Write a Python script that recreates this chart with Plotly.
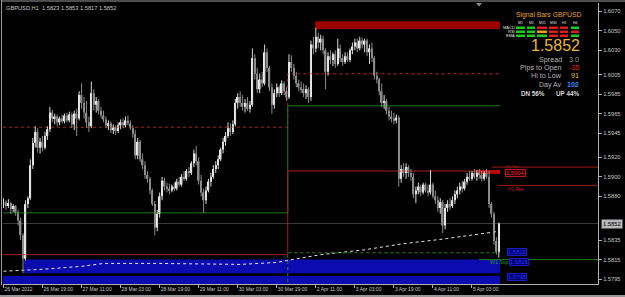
import plotly.graph_objects as go

# ---------------- data (prices in pips above BASE) ----------------
BASE = 1.5800
PIP = 0.0001

opens = [72,74,70,73,67,70,63,55,40,16, 72,78,112,135,146,130,136,130,142,149,
         166,160,162,156,160,157,163,158,164,154, 165,160,184,176,166,156,152,186,174,178,
         168,163,159,153,155,148,151,147,153,156, 153,158,155,150,144,122,136,118,112,102,
         98,86,72,48,62,80,96,90,88,86, 90,88,95,92,100,98,106,104,114,124,
         116,96,84,76,86,95,100,108,112,118, 128,136,142,150,146,154,176,182,176,172,
         176,170,174,222,206,190,200,196,228,212, 192,174,186,192,186,196,188,182,218,212,
         204,196,192,190,186,190,182,236,232,244, 238,242,230,208,224,220,226,216,232,222,
         218,224,220,230,234,238,232,240,236,240, 228,232,222,204,200,188,176,178,168,162,
         160,158,161,98,108,104,110,104,100,82, 86,90,84,92,86,84,92,80,76,68,
         74,50,68,72,70,76,82,86,90,88, 95,100,98,104,100,104,102,98,104,100,
         72,62,34,23]
highs = [78,76,77,74,72,71,66,58,42,76, 80,118,140,152,150,140,142,146,152,172,
         169,165,164,162,164,165,166,167,166,168, 170,188,196,182,178,162,198,190,182,180,
         172,168,162,158,157,154,153,156,159,160, 162,163,158,153,148,140,138,124,116,106,
         100,88,75,66,84,100,99,94,93,92, 94,98,100,103,106,108,110,116,128,132,
         120,102,88,90,98,104,112,116,122,130, 140,146,156,155,158,180,186,188,184,180,
         182,178,232,226,212,206,208,236,232,214, 196,190,196,194,199,198,192,226,225,216,
         208,200,198,196,194,192,240,244,253,248, 246,245,232,228,230,228,230,242,236,226,
         228,228,232,238,242,242,244,243,242,242, 236,238,224,208,202,196,184,180,172,168,
         166,164,163,112,114,114,112,108,104,90, 94,92,94,94,92,107,94,86,80,78,
         76,72,76,78,80,86,90,94,96,98, 104,106,106,108,107,108,106,106,108,106,
         74,64,38,53]
lows = [68,66,68,62,64,60,50,35,1,14, 68,76,108,130,125,124,126,128,138,146,
        156,154,152,153,155,155,156,156,150,148, 142,158,170,160,150,146,150,168,166,164,
        160,156,150,148,145,144,143,145,149,150, 151,153,148,140,118,118,115,108,98,94,
        82,70,40,44,58,76,86,84,82,84, 85,86,90,90,96,96,100,102,110,112,
        92,80,63,72,84,90,98,104,108,116, 124,132,140,142,144,152,170,172,168,166,
        168,166,172,200,186,186,192,194,208,188, 165,170,182,182,184,184,178,180,208,200,
        192,188,186,182,180,176,178,226,228,232, 230,226,190,204,216,214,212,214,218,214,
        216,218,218,226,230,228,230,232,228,224, 216,218,200,196,184,172,170,164,158,156,
        154,155,90,94,100,98,100,96,78,73, 82,80,82,84,80,82,78,72,64,62,
        42,46,64,66,68,72,78,82,84,86, 92,96,96,98,96,98,95,96,98,68,
        58,30,20,17]
closes = [74,70,73,67,70,63,55,40,16,72, 78,112,135,146,130,136,130,142,149,166,
          160,162,156,160,157,163,158,164,154,165, 160,184,176,166,156,152,186,174,178,168,
          163,159,153,155,148,151,147,153,156,153, 158,155,150,144,122,136,118,112,102,98,
          86,72,48,62,80,96,90,88,86,90, 88,95,92,100,98,106,104,114,124,116,
          96,84,76,86,95,100,108,112,118,128, 136,142,150,146,154,176,182,176,172,176,
          170,174,222,206,190,200,196,228,212,192, 174,186,192,186,196,188,182,218,212,204,
          196,192,190,186,190,182,236,232,244,238, 242,230,208,224,220,226,216,232,222,218,
          224,220,230,234,238,232,240,236,240,228, 232,222,204,200,188,176,178,168,162,160,
          158,161,98,108,104,110,104,100,82,86, 90,84,92,86,84,92,80,76,68,74,
          50,68,72,70,76,82,86,90,88,95, 100,98,104,100,104,102,98,104,100,72,
          62,34,23,52]

tick_bars = [0, 16, 32, 48, 64, 80, 96, 112, 128, 144, 160, 176, 192]
tick_text = ["26 Mar 2012", "26 Mar 19:00", "27 Mar 11:00", "28 Mar 03:00", "28 Mar 19:00",
             "29 Mar 11:00", "30 Mar 03:00", "30 Mar 19:00", "2 Apr 11:00", "3 Apr 03:00",
             "3 Apr 19:00", "4 Apr 11:00", "5 Apr 03:00"]
price_ticks = [1.6070, 1.6050, 1.6030, 1.6005, 1.5985, 1.5965, 1.5945, 1.5920, 1.5900,
               1.5880, 1.5835, 1.5815, 1.5795]

# weekly levels (previous week / current week), new week starts between bars 116 and 117
week_split = 116.5
lvl_red_dot = [1.5951, 1.6006]
lvl_green = [1.5863, 1.5973]
lvl_red = [1.5820, 1.5906]
lvl_green_dot = [1.5770, 1.5822]

# slow moving average (vertices)
ma_bars = [0, 16, 32, 41, 64, 97, 112, 116, 130, 148, 163, 180, 203]
ma_vals = [1.5803, 1.5805, 1.5808, 1.5811, 1.5811, 1.5810, 1.5812, 1.5814, 1.5820, 1.5825,
           1.5831, 1.5836, 1.5844]

bid = 1.5852
res_zone_top = [1.6052, 1.6060]     # red zone from bar 128
res_zone_h1 = [1.5903, 1.5907]      # small red zone
sup_zone_1 = [1.5801, 1.5815]       # blue zone from bar 8.5
sup_zone_2 = [1.5785, 1.5798]       # blue zone whole width
h4_res = 1.5910
h1_res = 1.5891
w1_sup = 1.5815

signal_rows = ["MACD", "RSI", "EMA"]
signal_cols = ["M1", "M5", "M15", "M30", "H1", "H4"]
signal_state = [["up", "up", "dn", "dn", "dn", "up"],
                ["up", "up", "flat", "dn", "dn", "dn"],
                ["up", "up", "up", "dn", "dn", "up"]]

# ---------------- figure ----------------
W, H = 625, 297
PL, PR, PT, PB = 3, 598, 3, 284
BAR_PX = 2.44
x0 = -0.5 / BAR_PX
x1 = x0 + (PR - PL) / BAR_PX
y_top = 1.5795 + (279 - PT) / 9730
y_bot = 1.5795 - (PB - 279) / 9730


def fx(px):
    return (px - PL) / (PR - PL)


def fy(py):
    return (PB - py) / (PB - PT)


def p(v):
    return BASE + v * PIP


fig = go.Figure()

up_wx, up_wy, dn_wx, dn_wy = [], [], [], []
up_x, up_b, up_h, dn_x, dn_b, dn_h = [], [], [], [], [], []
for i, (o, h, l, c) in enumerate(zip(opens, highs, lows, closes)):
    lo, hi = min(o, c), max(o, c)
    if c >= o:
        up_wx += [i, i, None]; up_wy += [p(l), p(h), None]
        up_x.append(i); up_b.append(p(lo)); up_h.append(max((hi - lo) * PIP, 0.00005))
    else:
        dn_wx += [i, i, None]; dn_wy += [p(l), p(h), None]
        dn_x.append(i); dn_b.append(p(lo)); dn_h.append(max((hi - lo) * PIP, 0.00005))

fig.add_trace(go.Scatter(x=ma_bars, y=ma_vals, mode="lines",
                         line=dict(color="#e8e8e8", width=1, dash="dot")))


def step(vals):
    return [x0, week_split, week_split, len(closes) - 0.5], [vals[0], vals[0], vals[1], vals[1]]


sx, sy = step(lvl_red_dot)
fig.add_trace(go.Scatter(x=sx, y=sy, mode="lines", line=dict(color="#a02828", width=1, dash="dot")))
sx, sy = step(lvl_green)
fig.add_trace(go.Scatter(x=sx, y=sy, mode="lines", line=dict(color="#1d7a1d", width=1)))
sx, sy = step(lvl_red)
fig.add_trace(go.Scatter(x=sx, y=sy, mode="lines", line=dict(color="#a82020", width=1)))
sx, sy = step(lvl_green_dot)
fig.add_trace(go.Scatter(x=sx, y=sy, mode="lines", line=dict(color="#1e8a1e", width=1, dash="dot")))

fig.add_trace(go.Scatter(x=up_wx, y=up_wy, mode="lines", line=dict(color="#d8d8d8", width=1)))
fig.add_trace(go.Scatter(x=dn_wx, y=dn_wy, mode="lines", line=dict(color="#8c8c8c", width=1)))
fig.add_trace(go.Bar(x=up_x, y=up_h, base=up_b, width=0.62, marker=dict(color="#ececec", line=dict(width=0))))
fig.add_trace(go.Bar(x=dn_x, y=dn_h, base=dn_b, width=0.62, marker=dict(color="#8a8a8a", line=dict(width=0))))

last = len(closes) - 0.5
shapes = []
shapes.append(dict(type="rect", xref="x", yref="y", x0=8.5, x1=last, y0=sup_zone_1[0], y1=sup_zone_1[1],
                   fillcolor="#0b0bb0", line=dict(width=0), layer="below"))
shapes.append(dict(type="rect", xref="x", yref="y", x0=x0, x1=last, y0=sup_zone_2[0], y1=sup_zone_2[1],
                   fillcolor="#0b0bb0", line=dict(width=0), layer="below"))
shapes.append(dict(type="rect", xref="x", yref="y", x0=127.7, x1=last, y0=res_zone_top[0], y1=res_zone_top[1],
                   fillcolor="#9c0000", line=dict(width=0), layer="below"))
shapes.append(dict(type="rect", xref="x", yref="y", x0=193.5, x1=last, y0=res_zone_h1[0], y1=res_zone_h1[1],
                   fillcolor="#c00000", line=dict(width=0), layer="below"))
shapes.append(dict(type="line", xref="paper", yref="y", x0=0, x1=1, y0=bid, y1=bid,
                   line=dict(color="#3c3c3c", width=1), layer="below"))
shapes.append(dict(type="line", xref="x", yref="y", x0=200.2, x1=x1, y0=h4_res, y1=h4_res,
                   line=dict(color="#a01818", width=1), layer="below"))
shapes.append(dict(type="line", xref="x", yref="y", x0=202.5, x1=x1, y0=h1_res, y1=h1_res,
                   line=dict(color="#a01818", width=1), layer="below"))
shapes.append(dict(type="line", xref="x", yref="y", x0=194.9, x1=x1, y0=w1_sup, y1=w1_sup,
                   line=dict(color="#1d7a1d", width=1), layer="below"))
shapes.append(dict(type="path", xref="paper", yref="paper",
                   path=f"M {fx(476)} {fy(3)} L {fx(482)} {fy(3)} L {fx(479)} {fy(6.5)} Z",
                   fillcolor="#8a8a8a", line=dict(width=0)))
shapes.append(dict(type="line", xref="paper", yref="paper", x0=fx(1.5), x1=fx(1.5), y0=fy(0), y1=fy(285),
                   line=dict(color="#9a9a9a", width=1)))
shapes.append(dict(type="line", xref="paper", yref="paper", x0=fx(1), x1=fx(625), y0=fy(1), y1=fy(1),
                   line=dict(color="#9a9a9a", width=1)))
shapes.append(dict(type="line", xref="paper", yref="paper", x0=fx(0), x1=fx(625), y0=fy(296), y1=fy(296),
                   line=dict(color="#c8c8c8", width=1.5)))

col_x = [(516, 525), (527, 535), (537, 547), (549, 558), (560, 568), (571, 579)]
row_y = [(26.5, 29), (30.5, 33), (34.5, 37)]
state_color = {"up": "#1ec81e", "dn": "#d81e1e", "flat": "#e8a010"}
for r, row in enumerate(signal_state):
    for c, st in enumerate(row):
        shapes.append(dict(type="rect", xref="paper", yref="paper",
                           x0=fx(col_x[c][0]), x1=fx(col_x[c][1]),
                           y0=fy(row_y[r][1]), y1=fy(row_y[r][0]),
                           fillcolor=state_color[st], line=dict(width=0)))

FONT = "Liberation Sans, Arial"
ann = []


def text(t, x, y, size, color, xa="left", ya="middle", **kw):
    ann.append(dict(text=t, x=fx(x), y=fy(y), xref="paper", yref="paper", xanchor=xa, yanchor=ya,
                    showarrow=False, font=dict(family=FONT, size=size, color=color), borderpad=0, **kw))


text("GBPUSD,H1  1.5823 1.5853 1.5817 1.5852", 5, 7.5, 5.7, "#c8c8c8")
text("Signal Bars GBPUSD", 548, 15, 6.8, "#e0a030", xa="center")
for c, name in enumerate(signal_cols):
    text(name, (col_x[c][0] + col_x[c][1]) / 2, 23, 3.5, "#e0e0e0", xa="center")
for r, name in enumerate(signal_rows):
    text(name, 515.5, (row_y[r][0] + row_y[r][1]) / 2, 4, "#e0e0e0", xa="right")
text(f"{bid:.4f}", 581, 45.3, 16, "#eab43c", xa="right")
text("Spread", 563, 59, 7.2, "#b4b4b4", xa="right")
text("3.0", 580, 59, 7.2, "#9a9a9a", xa="right")
text("Pips to Open", 563, 67.3, 7.2, "#b4b4b4", xa="right")
text("-35", 580, 67.3, 7.2, "#e02828", xa="right")
text("Hi to Low", 563, 75.6, 7.2, "#b4b4b4", xa="right")
text("91", 580, 75.6, 7.2, "#e8c23c", xa="right")
text("Day Av", 563, 84.5, 7, "#b4b4b4", xa="right")
text("<b>102</b>", 580, 84.5, 7, "#3a8cff", xa="right")
text("<b>DN 56%</b>", 520, 94, 6.3, "#d8d8d8")
text("<b>UP 44%</b>", 580, 94, 6.3, "#d8d8d8", xa="right")


def ylab(t, price, x, size, color, box=None, bg=None):
    d = dict(text=t, x=fx(x), y=price, xref="paper", yref="y", xanchor="left", yanchor="middle",
             showarrow=False, font=dict(family=FONT, size=size, color=color), borderpad=0)
    if box:
        d.update(bordercolor=box, borderwidth=1)
    if bg:
        d.update(bgcolor=bg)
    ann.append(d)


ylab("H4 Res", h4_res + 0.0001, 505, 4, "#b01818")
ylab("1.5904", 1.5904, 505, 5.8, "#e02020", box="#c01818", bg="#200000")
ylab("H1 Res", 1.5887, 507, 4.8, "#c01818")
ylab("1.5822", 1.5823, 507, 5.8, "#2838ff", box="#1820c0", bg="#00006a")
ylab("W1 Sup", 1.58125, 489, 5.2, "#1e9a1e")
ylab("1.5815", 1.58125, 508.5, 5.8, "#2838ff", box="#1820c0", bg="#00006a")
ylab("1.5798", 1.5797, 507, 5.8, "#2838ff", box="#1820c0", bg="#00006a")
ann.append(dict(text="1.5852", x=fx(600.5), y=bid, xref="paper", yref="y", xanchor="left", yanchor="middle",
                showarrow=False, font=dict(family=FONT, size=5.8, color="#000000"), bgcolor="#b8b8b8",
                borderpad=1))

fig.update_layout(
    width=W, height=H, autosize=False,
    margin=dict(l=PL, r=W - PR, t=PT, b=H - PB, pad=0),
    paper_bgcolor="#000000", plot_bgcolor="#000000",
    showlegend=False, hovermode=False, barmode="overlay",
    shapes=shapes, annotations=ann,
    font=dict(family=FONT, size=5.7, color="#c8c8c8"),
    xaxis=dict(range=[x0, x1], showgrid=False, zeroline=False, tickmode="array",
               tickvals=tick_bars, ticktext=tick_text, ticks="outside", ticklen=3,
               tickcolor="#b0b0b0", showline=True, linecolor="#b0b0b0", linewidth=1,
               ticklabelposition="outside right", tickangle=0, automargin=False,
               tickfont=dict(size=5, color="#c8c8c8"), fixedrange=True),
    yaxis=dict(range=[y_bot, y_top], side="right", showgrid=False, zeroline=False,
               tickmode="array", tickvals=price_ticks, ticktext=[f"{v:.4f}" for v in price_ticks],
               ticks="outside", ticklen=3, tickcolor="#b0b0b0", showline=True, linecolor="#b0b0b0",
               linewidth=1, automargin=False, tickfont=dict(size=5.7, color="#c8c8c8"), fixedrange=True),
)
fig.write_html("out.html")
